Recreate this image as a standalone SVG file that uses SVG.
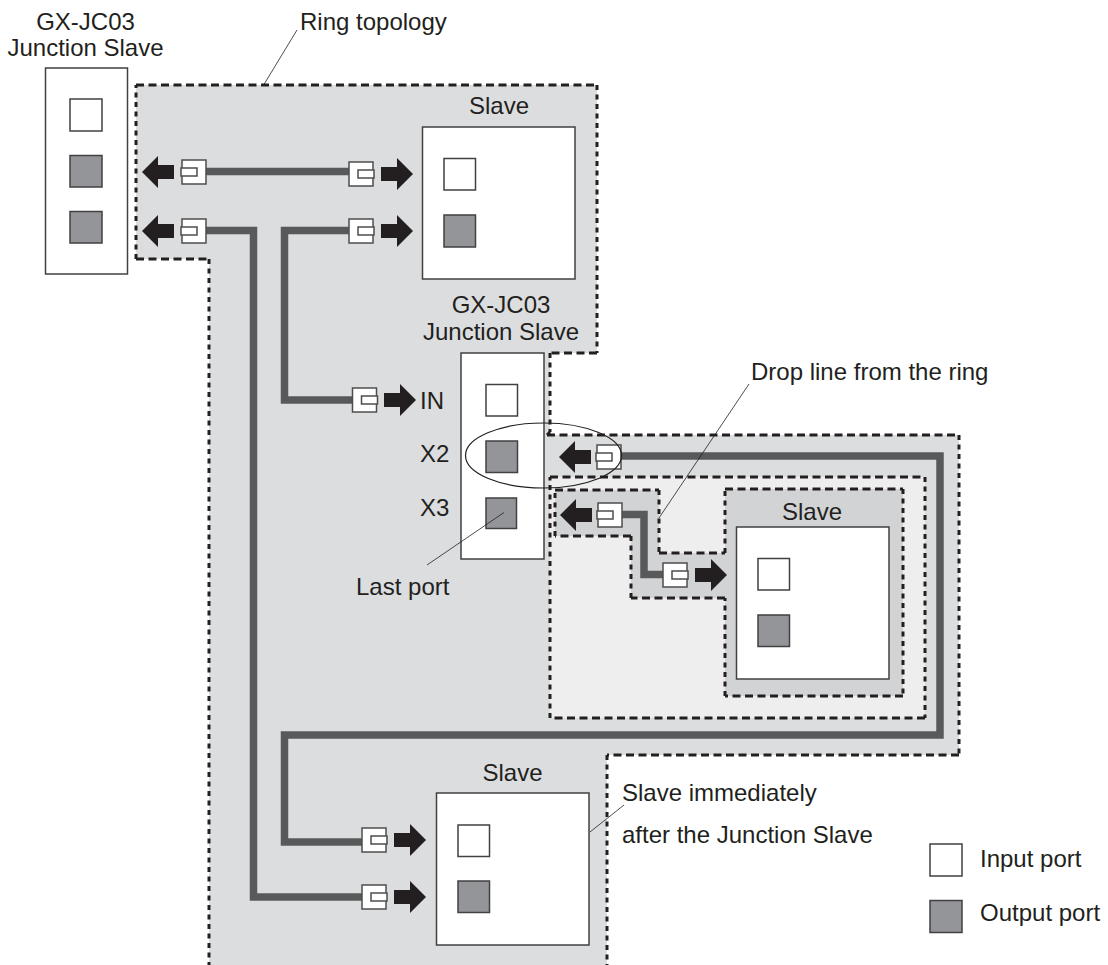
<svg xmlns="http://www.w3.org/2000/svg" width="1108" height="965" viewBox="0 0 1108 965">
<style>
text{font-family:"Liberation Sans",Arial,sans-serif;font-size:24px;fill:#231f20}
.m{text-anchor:middle}
.zh{fill:none;stroke:#231f20;stroke-width:3;stroke-dasharray:8 4.500}
.zv{fill:none;stroke:#231f20;stroke-width:3;stroke-dasharray:5 4.500}
.box{fill:#fff;stroke:#414042;stroke-width:1.5}
.in{fill:#fff;stroke:#414042;stroke-width:1.5}
.out{fill:#939598;stroke:#414042;stroke-width:1.5}
.cable{fill:none;stroke:#58595b;stroke-width:7.5;stroke-linejoin:miter}
.plug{fill:#fff;stroke:#4d4d4f;stroke-width:1.5}
.arrow{fill:#231f20}
.lead{fill:none;stroke:#231f20;stroke-width:.8}
</style>
<defs>
<g id="arrowR"><path class="arrow" d="M0-7H16V-16L32 0 16 16V7H0Z"/></g>
<g id="arrowL"><path class="arrow" d="M32-7H16V-16L0 0 16 16V7H32Z"/></g>
<g id="plugR"><rect class="plug" width="24" height="24"/><rect class="plug" x="9" y="8" width="16" height="8"/></g>
<g id="plugL"><rect class="plug" width="24" height="24"/><rect class="plug" x="-1" y="8" width="16" height="8"/></g>
</defs>
<g id="zones">
<g id="zone-ring">
<path fill="#dcddde" d="M136 85H597V353H550V432L547 435H959V755H607V970H209V259H136Z"/>
<path class="zh" d="M136 85H597M597 353H550M547 435H959M959 755H607M136 259H209"/>
<path class="zv" d="M597 85V353M550 353V432M959 435V755M607 755V970M209 259V970M136 259V85"/>
<path d="M550 432L547 435" fill="none" stroke="#231f20" stroke-width="3"/>
</g>
<g id="zone-drop">
<path fill="#eeeeef" d="M550 477H925V718H550Z"/>
<path class="zh" d="M550 477H925M925 718H550"/>
<path class="zv" d="M925 477V718M550 718V477"/>
</g>
<g id="zone-slave">
<path fill="#d1d3d4" d="M555 490H659V553H725V489H903V696H725V598H631V536H555Z"/>
<path class="zh" d="M555 490H659M659 553H725M725 489H903M903 696H725M725 598H631M631 536H555"/>
<path class="zv" d="M659 490V553M725 553V489M903 489V696M725 696V598M631 598V536M555 536V490"/>
</g>
</g>
<g id="connectors">
<path class="cable" d="M206 171.500H349"/>
<path class="cable" d="M206 230.500H253.500V897H362"/>
<path class="cable" d="M349 230.500H284.500V400H352"/>
<path class="cable" d="M621 456H940V735H284.500V842H362"/>
<path class="cable" d="M622 514.500H644V574.500H663"/>
<use href="#arrowL" x="142" y="172"/><use href="#plugL" x="182" y="160"/>
<use href="#plugR" x="349" y="162"/><use href="#arrowR" x="381" y="174"/>
<use href="#arrowL" x="142" y="231"/><use href="#plugL" x="182" y="219"/>
<use href="#plugR" x="349" y="219"/><use href="#arrowR" x="381" y="231"/>
<use href="#plugR" x="352.500" y="388"/><use href="#arrowR" x="384" y="400"/>
<use href="#arrowL" x="559" y="457"/><use href="#plugL" x="597" y="445"/>
<use href="#arrowL" x="560" y="515"/><use href="#plugL" x="598" y="503"/>
<use href="#plugR" x="663" y="563"/><use href="#arrowR" x="695" y="575"/>
<use href="#plugR" x="362" y="828"/><use href="#arrowR" x="394" y="840"/>
<use href="#plugR" x="362" y="885"/><use href="#arrowR" x="394" y="897"/>
</g>
<g id="junction-1">
<text class="m" x="85.500" y="30">GX-JC03</text>
<text class="m" x="85.500" y="56">Junction Slave</text>
<rect class="box" x="45.500" y="68" width="82" height="206"/>
<rect class="in" x="70" y="99" width="32" height="32"/>
<rect class="out" x="70" y="155.500" width="32" height="31.500"/>
<rect class="out" x="70" y="211.500" width="32" height="31.500"/>
</g>
<g id="slave-top">
<text class="m" x="499" y="114">Slave</text>
<rect class="box" x="422.500" y="127" width="152.500" height="152"/>
<rect class="in" x="444" y="158.500" width="31.500" height="31.500"/>
<rect class="out" x="444" y="215" width="31.500" height="32"/>
</g>
<g id="junction-2">
<text class="m" x="501" y="313">GX-JC03</text>
<text class="m" x="501" y="340">Junction Slave</text>
<rect class="box" x="461" y="353" width="83" height="206"/>
<rect class="in" x="486" y="384.500" width="31.500" height="31.500"/>
<rect class="out" x="486" y="441" width="31.500" height="31.500"/>
<rect class="out" x="486" y="498" width="30.500" height="30.500"/>
<text x="420" y="409">IN</text>
<text x="420" y="462">X2</text>
<text x="420" y="516">X3</text>
</g>
<g id="slave-drop">
<text class="m" x="812" y="520">Slave</text>
<rect class="box" x="736.500" y="527" width="152.500" height="152"/>
<rect class="in" x="758" y="558.500" width="31.500" height="31.500"/>
<rect class="out" x="758" y="615" width="31.500" height="31.500"/>
</g>
<g id="slave-bottom">
<text class="m" x="512.500" y="781">Slave</text>
<rect class="box" x="436.500" y="793" width="152.500" height="152"/>
<rect class="in" x="458" y="825" width="31.500" height="31.500"/>
<rect class="out" x="458" y="881" width="31.500" height="31.500"/>
</g>
<g id="annotations">
<ellipse cx="543.500" cy="455.500" rx="78" ry="32.500" fill="none" stroke="#231f20" stroke-width="1.200"/>
<path class="lead" d="M297 30L263 86"/>
<path class="lead" d="M749 384L659 518"/>
<path class="lead" d="M504 512.500L427 565"/>
<path class="lead" d="M590 832L624 805"/>
<text x="300" y="29.500">Ring topology</text>
<text x="751" y="380">Drop line from the ring</text>
<text x="356" y="595">Last port</text>
<text x="622" y="801">Slave immediately</text>
<text x="622" y="843">after the Junction Slave</text>
</g>
<g id="legend">
<rect class="in" x="930" y="844" width="32" height="32"/>
<text x="980" y="867">Input port</text>
<rect class="out" x="930" y="900.500" width="32" height="32"/>
<text x="980" y="921">Output port</text>
</g>
</svg>
